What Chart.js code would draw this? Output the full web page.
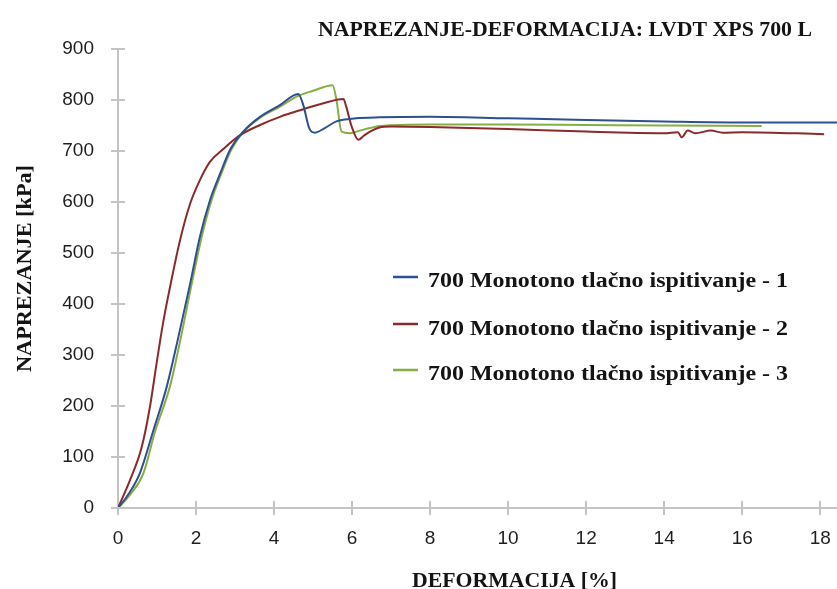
<!DOCTYPE html>
<html>
<head>
<meta charset="utf-8">
<script src="https://cdn.jsdelivr.net/npm/chart.js@4.4.1/dist/chart.umd.min.js"></script>
<style>
  html, body { margin: 0; padding: 0; background: #fff; }
  #wrap { width: 837px; height: 589px; position: relative; }
</style>
</head>
<body>
<div id="wrap"><canvas id="canvas"></canvas></div>
<script>
// naslovi
var naslov = 'NAPREZANJE-DEFORMACIJA: LVDT XPS 700 L';
var naslovX = 'DEFORMACIJA [%]';
var naslovY = 'NAPREZANJE [kPa]';
var oznake = ['700 Monotono tlačno ispitivanje - 1', '700 Monotono tlačno ispitivanje - 2', '700 Monotono tlačno ispitivanje - 3'];
var boje = ['#2c5090', '#8c2a2a', '#88ad45'];

// os
var xMax = 18.43;
var yMax = 900;
var xTicks = [0, 2, 4, 6, 8, 10, 12, 14, 16, 18];

// ispitivanje 1 (plava)
var defo1 = [0, 0.25, 0.56, 0.91, 1.25, 1.55, 1.85, 2.1, 2.36, 2.62, 2.87, 3.21, 3.64, 4.15, 4.62, 4.75, 4.9, 5.05, 5.3, 5.6, 6.1, 6.7, 8, 10, 12, 14, 16, 18.43];
var napr1 = [0, 25, 68, 153, 238, 336, 440, 532, 604, 656, 702, 738, 767, 790, 812, 790, 745, 736, 745, 758, 764, 766, 767, 764, 761, 758, 756, 756];

// ispitivanje 2 (crvena)
var defo2 = [0, 0.31, 0.61, 0.82, 0.99, 1.16, 1.33, 1.59, 1.85, 2.1, 2.36, 2.7, 3.13, 3.64, 4.15, 4.67, 5.2, 5.78, 5.85, 5.99, 6.16, 6.3, 6.46, 6.7, 7, 8, 10, 12, 14, 14.35, 14.45, 14.6, 14.8, 15.2, 15.5, 16, 18.1];
var napr2 = [0, 55, 120, 199, 284, 365, 432, 525, 597, 643, 679, 704, 731, 751, 767, 780, 792, 802, 787, 748, 722, 730, 738, 746, 748, 747, 743, 738, 735, 737, 727, 740, 735, 740, 736, 737, 733];

// ispitivanje 3 (zelena)
var defo3 = [0, 0.3, 0.65, 0.95, 1.33, 1.6, 1.89, 2.14, 2.4, 2.65, 2.9, 3.21, 3.64, 4.15, 4.62, 5.0, 5.5, 5.6, 5.73, 5.95, 6.2, 6.46, 6.7, 8, 10, 12, 14, 16.5];
var napr3 = [0, 25, 68, 150, 238, 330, 440, 530, 604, 656, 702, 737, 765, 787, 808, 818, 829, 800, 738, 735, 740, 745, 749, 752, 752, 751, 750, 749];

function tocke(xs, ys) {
    return xs.map(function(x, i) { return {x: x, y: ys[i]}; });
}

function serija(i, xs, ys) {
    return {
        label: oznake[i],
        data: tocke(xs, ys),
        borderColor: boje[i],
        backgroundColor: boje[i],
        borderWidth: 2,
        pointRadius: 0,
        fill: false,
        cubicInterpolationMode: 'monotone'
    };
}

// tekst stisnut na zadanu sirinu
function pisi(ctx, tekst, font, x, y, sirina) {
    ctx.save();
    ctx.font = font;
    var w = ctx.measureText(tekst).width;
    ctx.translate(x, y);
    ctx.scale(sirina / w, 1);
    ctx.fillText(tekst, 0, 0);
    ctx.restore();
}

var osColor = '#c4c4c4';

var crtanje = {
    id: 'crtanje',
    afterDraw: function(chart) {
        var ctx = chart.ctx;
        var xs = chart.scales.x, ys = chart.scales.y;
        var a = chart.chartArea;

        // unutarnji dio crtica
        ctx.save();
        ctx.strokeStyle = osColor;
        ctx.lineWidth = 2;
        ctx.beginPath();
        for (var v = 0; v <= yMax; v += 100) {
            var py = Math.round(ys.getPixelForValue(v));
            ctx.moveTo(a.left, py);
            ctx.lineTo(a.left + 7, py);
        }
        for (var u = 2; u <= 18; u += 2) {
            var px = Math.round(xs.getPixelForValue(u));
            ctx.moveTo(px, a.bottom);
            ctx.lineTo(px, a.bottom - 7);
        }
        ctx.stroke();
        ctx.restore();

        ctx.save();
        ctx.fillStyle = '#141414';
        ctx.textBaseline = 'alphabetic';
        var serif = 'bold 22px "Liberation Serif", "DejaVu Serif", serif';

        // naslov
        pisi(ctx, naslov, serif, 318, 36, 494);
        // naslov x osi
        pisi(ctx, naslovX, serif, 412, 587, 205);
        // naslov y osi
        ctx.save();
        ctx.translate(31, 372);
        ctx.rotate(-Math.PI / 2);
        pisi(ctx, naslovY, serif, 0, 0, 207);
        ctx.restore();

        // legenda
        var redovi = [[277, 287], [324, 335], [370, 380]];
        for (var i = 0; i < 3; i++) {
            ctx.strokeStyle = boje[i];
            ctx.lineWidth = 2.5;
            ctx.beginPath();
            ctx.moveTo(393, redovi[i][0]);
            ctx.lineTo(418, redovi[i][0]);
            ctx.stroke();
            pisi(ctx, oznake[i], 'bold 20px "Liberation Serif", "DejaVu Serif", serif', 428, redovi[i][1], 360);
        }
        ctx.restore();
    }
};

var ctx = document.getElementById('canvas').getContext('2d');
var chart = new Chart(ctx, {
    type: 'line',
    data: {
        datasets: [
            serija(0, defo1, napr1),
            serija(1, defo2, napr2),
            serija(2, defo3, napr3)
        ]
    },
    options: {
        responsive: true,
        maintainAspectRatio: false,
        animation: false,
        layout: { padding: { top: 49, right: 0, left: 0, bottom: 0 } },
        plugins: {
            legend: { display: false },
            title: { display: false },
            tooltip: { enabled: false }
        },
        scales: {
            x: {
                type: 'linear',
                min: 0,
                max: xMax,
                afterFit: function(s) {
                    s.height = 81;
                    s.paddingRight = 0;
                    s.paddingLeft = 0;
                },
                afterBuildTicks: function(s) {
                    s.ticks = xTicks.map(function(v) { return {value: v}; });
                },
                ticks: {
                    stepSize: 2,
                    includeBounds: false,
                    autoSkip: false,
                    color: '#1e1e1e',
                    padding: 12,
                    maxRotation: 0,
                    font: { family: '"Liberation Sans", Arial, sans-serif', size: 19 }
                },
                grid: {
                    drawOnChartArea: false,
                    tickLength: 7,
                    color: osColor,
                    lineWidth: 2
                },
                border: { color: osColor, width: 2 }
            },
            y: {
                min: 0,
                max: yMax,
                afterFit: function(s) { s.width = 118; },
                ticks: {
                    stepSize: 100,
                    color: '#1e1e1e',
                    padding: 17,
                    font: { family: '"Liberation Sans", Arial, sans-serif', size: 19 }
                },
                grid: {
                    drawOnChartArea: false,
                    tickLength: 7,
                    color: osColor,
                    lineWidth: 2
                },
                border: { color: osColor, width: 2 }
            }
        }
    },
    plugins: [crtanje]
});
</script>
</body>
</html>
